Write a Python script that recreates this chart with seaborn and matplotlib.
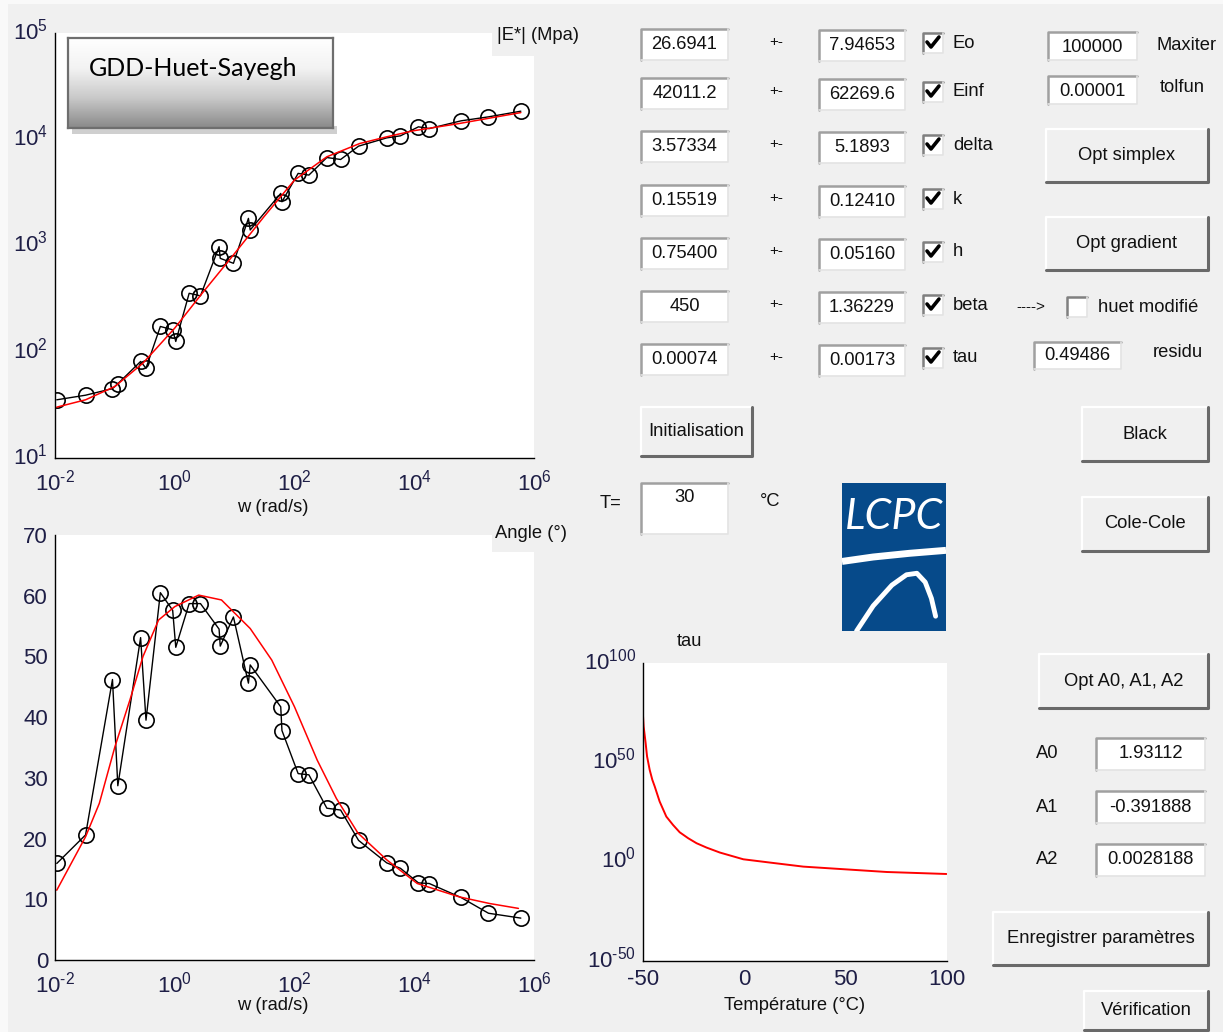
import numpy as np
import pandas as pd
import matplotlib
matplotlib.use('Agg')
import matplotlib.pyplot as plt
import seaborn as sns
from matplotlib import font_manager
from matplotlib.patches import Rectangle
from matplotlib.lines import Line2D
from matplotlib.colors import LinearSegmentedColormap
from matplotlib.transforms import ScaledTranslation
from matplotlib.ticker import FuncFormatter, FixedLocator, NullLocator, LogLocator

w_meas = [0.0107, 0.0324, 0.0912, 0.112, 0.269, 0.331, 0.575, 0.923, 1.04, 1.74,
          2.69, 5.50, 5.75, 9.55, 17.0, 18.2, 58.9, 61.7, 115, 174,
          347, 589, 1175, 3467, 5888, 11750, 17780, 60260, 173800, 602600]
e_meas = [35.3, 39, 45, 50, 81, 70, 173, 161, 125, 355,
          336, 975, 757, 680, 1800, 1400, 3090, 2580, 4770, 4600,
          6730, 6450, 8610, 10300, 10770, 13090, 12600, 14900, 16250, 18370]
angle_meas = [15.9, 20.6, 46.2, 28.7, 53.1, 39.5, 60.5, 57.6, 51.5, 58.7,
              58.7, 54.5, 51.7, 56.5, 45.6, 48.6, 41.7, 37.8, 30.7, 30.5,
              25.0, 24.7, 19.7, 16.0, 15.1, 12.7, 12.6, 10.3, 7.7, 6.9]

# ---- fitted model curves ----
w_fit_e = [0.0107, 0.0324, 0.1, 0.295, 1.0, 2.88, 9.55, 30.9, 100, 347,
           1230, 3467, 9550, 56230, 602600]
e_fit = [30.1, 35.3, 47.1, 78.2, 167, 356, 815, 1866, 4130, 6840,
         9120, 10540, 12000, 14060, 17820]
w_fit_a = [0.0107, 0.0324, 0.055, 0.1, 0.178, 0.295, 0.537, 1.0, 2.51, 6.03,
           18.2, 41.7, 100, 240, 501, 1148, 3467, 11220, 56230, 182000, 549500]
angle_fit = [11.5, 20.3, 25.8, 35.1, 42.8, 50.0, 56.0, 58.2, 60.1, 59.3,
             54.6, 49.4, 41.7, 32.9, 26.6, 20.9, 16.5, 12.6, 10.4, 9.3, 8.5]
temp_fit = [-50, -49.7, -48.7, -48.0, -46.7, -45.4, -44.2, -41.8, -38.5, -35.2,
            -31.9, -27.7, -23.6, -18.7, -12.1, -0.5, 12.6, 29.1, 48.9, 70.3, 99.7]
tau_fit = [3.2e73, 1.3e68, 5.0e59, 1e53, 1.6e46, 1.6e41, 6.3e37, 2.0e30, 5.0e22, 3.2e18,
           6.3e14, 6.3e11, 2.0e9, 1.3e7, 4.0e4, 15.8, 0.355, 3.2e-3, 1.6e-4, 6.3e-6, 6.3e-7]

# ---- GUI contents ----
param_names = ['Eo', 'Einf', 'delta', 'k', 'h', 'beta', 'tau']
param_values = ['26.6941', '42011.2', '3.57334', '0.15519', '0.75400', '450', '0.00074']
param_errors = ['7.94653', '62269.6', '5.1893', '0.12410', '0.05160', '1.36229', '0.00173']
a_names = ['A0', 'A1', 'A2']
a_values = ['1.93112', '-0.391888', '0.0028188']

df_meas = pd.DataFrame({'w': w_meas, 'E': e_meas, 'angle': angle_meas})

sns.set_style('white')
names = {f.name for f in font_manager.fontManager.ttflist}
gui_font = 'Liberation Sans Narrow' if 'Liberation Sans Narrow' in names else 'Liberation Sans'
plt.rcParams['font.family'] = [gui_font, 'DejaVu Sans']
plt.rcParams['axes.edgecolor'] = 'black'
plt.rcParams['axes.linewidth'] = 1.0
plt.rcParams['axes.unicode_minus'] = False

GUI_SIZE = 13.2

W, H = 1223, 1032
fig = plt.figure(figsize=(W / 100, H / 100), dpi=100)
fig.patch.set_facecolor('#f9f9f9')


def fx(x):
    return x / W


def fy(y):
    return 1 - y / H


def box(x0, y0, x1, y1):
    return [fx(x0), fy(y1), (x1 - x0) / W, (y1 - y0) / H]


def rect(x0, y0, x1, y1, **kw):
    fig.add_artist(Rectangle((fx(x0), fy(y1)), (x1 - x0) / W, (y1 - y0) / H,
                             transform=fig.transFigure, **kw))


def line(xs, ys, **kw):
    fig.add_artist(Line2D([fx(v) for v in xs], [fy(v) for v in ys],
                          transform=fig.transFigure, **kw))


def label(x, y, s, size=GUI_SIZE, ha='left', va='center', **kw):
    fig.text(fx(x), fy(y), s, size=size, ha=ha, va=va, color='#111111', **kw)


def edit_box(x0, y0, x1, y1, s, ty=None):
    rect(x0, y0, x1, y1, facecolor='white', edgecolor='none', zorder=2)
    line([x0, x0, x1], [y1, y0, y0], color='#a0a0a0', lw=1.8, zorder=3)
    line([x0, x1, x1], [y1, y1, y0], color='#e3e3e3', lw=1.2, zorder=3)
    label((x0 + x1) / 2, (y0 + y1) / 2 if ty is None else ty, s, ha='center', zorder=4)


def button(x0, y0, x1, y1, s):
    rect(x0, y0, x1, y1, facecolor='#f0f0f0', edgecolor='none', zorder=2)
    line([x0, x0, x1], [y1, y0, y0], color='white', lw=1.6, zorder=3)
    line([x0, x1, x1], [y1, y1, y0], color='#696969', lw=2.2, zorder=3)
    label((x0 + x1) / 2, (y0 + y1) / 2, s, ha='center', zorder=4)


def checkbox(x0, yc, checked=True):
    y0, y1, x1 = yc - 10, yc + 10, x0 + 20
    rect(x0, y0, x1, y1, facecolor='white', edgecolor='none', zorder=2)
    line([x0, x0, x1], [y1, y0, y0], color='#808080', lw=1.8, zorder=3)
    line([x0, x1, x1], [y1, y1, y0], color='#e3e3e3', lw=1.2, zorder=3)
    if checked:
        line([x0 + 4, x0 + 8, x0 + 16], [yc - 1, yc + 4, yc - 6], color='black', lw=2.6, zorder=4)


def pow10_label(v, pos):
    e = int(round(np.log10(v)))
    s = str(e).replace('-', '\u2010')
    return '$\\mathdefault{10^{%s}}$' % s


# background panel
rect(8, 4, W, H, facecolor='#f0f0f0', edgecolor='none', zorder=-5)

tick_color = '#1e1e46'


def style_axis(ax, xpad=8):
    sns.despine(ax=ax)
    ax.set_facecolor('white')
    ax.tick_params(direction='in', length=5, width=1, color='black', labelcolor=tick_color,
                   labelsize=16)
    ax.tick_params(axis='x', pad=xpad)
    ax.tick_params(axis='y', pad=5)
    ax.tick_params(which='minor', direction='in', length=3, width=0.8, color='black')
    ax.set_xlabel('')
    ax.set_ylabel('')


def raise_ylabels(ax, dy):
    off = ScaledTranslation(0, dy / 72, fig.dpi_scale_trans)
    for t in ax.yaxis.get_major_ticks():
        t.label1.set_transform(t.label1.get_transform() + off)


# ---- |E*| plot ----
ax1 = fig.add_axes(box(55, 33, 534, 458))
ax1.set_xscale('log')
ax1.set_yscale('log')
sns.lineplot(data=df_meas, x='w', y='E', ax=ax1, color='black', lw=1, marker='o',
             markersize=11, markerfacecolor='none', markeredgecolor='black',
             markeredgewidth=1.2, estimator=None, sort=False)
sns.lineplot(x=w_fit_e, y=e_fit, ax=ax1, color='red', lw=1.1, estimator=None, sort=False)
ax1.set_xlim(1e-2, 1e6)
ax1.set_ylim(1e1, 1e5)
ax1.xaxis.set_major_locator(FixedLocator([1e-2, 1e0, 1e2, 1e4, 1e6]))
ax1.xaxis.set_minor_locator(NullLocator())
ax1.xaxis.set_major_formatter(FuncFormatter(pow10_label))
ax1.yaxis.set_major_locator(FixedLocator([1e1, 1e2, 1e3, 1e4, 1e5]))
ax1.yaxis.set_minor_locator(LogLocator(base=10, subs=np.arange(2, 10)))
ax1.yaxis.set_major_formatter(FuncFormatter(pow10_label))
style_axis(ax1)
raise_ylabels(ax1, 3)

# ---- phase angle plot ----
ax2 = fig.add_axes(box(55, 535, 534, 960))
ax2.set_xscale('log')
sns.lineplot(data=df_meas, x='w', y='angle', ax=ax2, color='black', lw=1, marker='o',
             markersize=11, markerfacecolor='none', markeredgecolor='black',
             markeredgewidth=1.2, estimator=None, sort=False)
sns.lineplot(x=w_fit_a, y=angle_fit, ax=ax2, color='red', lw=1.1, estimator=None, sort=False)
ax2.set_xlim(1e-2, 1e6)
ax2.set_ylim(0, 70)
ax2.xaxis.set_major_locator(FixedLocator([1e-2, 1e0, 1e2, 1e4, 1e6]))
ax2.xaxis.set_minor_locator(NullLocator())
ax2.xaxis.set_major_formatter(FuncFormatter(pow10_label))
ax2.set_yticks(np.arange(0, 71, 10))
style_axis(ax2)

# ---- tau(T) plot ----
ax3 = fig.add_axes(box(643, 663, 947, 961))
ax3.set_yscale('log')
sns.lineplot(x=temp_fit, y=tau_fit, ax=ax3, color='red', lw=1.4, estimator=None, sort=False)
ax3.set_xlim(-50, 100)
ax3.set_ylim(1e-50, 1e100)
ax3.set_xticks([-50, 0, 50, 100])
ax3.yaxis.set_major_locator(FixedLocator([1e-50, 1e0, 1e50, 1e100]))
ax3.yaxis.set_minor_locator(NullLocator())
ax3.yaxis.set_major_formatter(FuncFormatter(pow10_label))
style_axis(ax3, xpad=6)
raise_ylabels(ax3, 3)

# axis captions
rect(492, 24, 537, 56, facecolor='#f0f0f0', edgecolor='none', zorder=2)
label(497, 36, '|E*| (Mpa)', zorder=4)
label(273, 507, 'w (rad/s)', ha='center')
rect(492, 518, 537, 552, facecolor='#f0f0f0', edgecolor='none', zorder=2)
label(495, 533, 'Angle (°)', zorder=4)
label(273, 1005, 'w (rad/s)', ha='center')
label(677, 642, 'tau')
label(795, 1006, 'Température (°C)', ha='center')

# title box with gradient
rect(72, 126, 337, 134, facecolor='#cfcfcf', edgecolor='none', zorder=2)
ax_t = fig.add_axes(box(68, 38, 333, 128), zorder=3)
grad_cmap = LinearSegmentedColormap.from_list('g', ['#ffffff', '#f3f3f3', '#c9c9c9', '#8a8a8a'])
ax_t.imshow(np.linspace(0, 1, 100).reshape(-1, 1), aspect='auto', cmap=grad_cmap,
            extent=[0, 1, 0, 1])
ax_t.set_xticks([])
ax_t.set_yticks([])
for sp in ax_t.spines.values():
    sp.set_color('#6e6e6e')
    sp.set_linewidth(1.6)
ax_t.text(0.08, 0.66, 'GDD-Huet-Sayegh', transform=ax_t.transAxes, family='Lato',
          size=18, va='center', ha='left', color='black')

# parameter rows
rows_y = [45, 94, 147, 201, 254, 307, 360]
for name, val, err, yc in zip(param_names, param_values, param_errors, rows_y):
    edit_box(641, yc - 16, 728, yc + 15, val)
    label(776, yc - 3, '+-', ha='center', size=11)
    edit_box(819, yc - 15, 905, yc + 16, err)
    checkbox(923, yc - 2)
    label(953, yc - 2, name)

edit_box(1048, 32, 1137, 60, '100000', ty=47)
label(1156, 45, 'Maxiter')
edit_box(1048, 76, 1137, 104, '0.00001', ty=91)
label(1160, 87, 'tolfun')
button(1046, 129, 1208, 182, 'Opt simplex')
button(1046, 217, 1208, 270, 'Opt gradient')
label(1016, 307, '---->', size=11)
checkbox(1067, 307, checked=False)
label(1098, 307, 'huet modifié')
edit_box(1034, 342, 1121, 369, '0.49486', ty=355)
label(1153, 353, 'residu')

button(641, 407, 752, 456, 'Initialisation')
button(1082, 407, 1208, 461, 'Black')
label(600, 504, 'T=')
edit_box(641, 483, 728, 534, '30', ty=498)
label(760, 501, '°C')
button(1082, 497, 1208, 551, 'Cole-Cole')
button(1039, 654, 1208, 708, 'Opt A0, A1, A2')
for nm, val, yc in zip(a_names, a_values, [754, 807, 860]):
    label(1036, yc, nm)
    edit_box(1096, yc - 16, 1205, yc + 16, val)
button(993, 912, 1208, 965, 'Enregistrer paramètres')
button(1084, 991, 1208, 1030, 'Vérification')

# LCPC logo
ax_l = fig.add_axes(box(842, 483, 946, 631), zorder=3)
ax_l.set_xlim(0, 1)
ax_l.set_ylim(0, 1)
ax_l.axis('off')
ax_l.add_patch(Rectangle((0, 0), 1, 1, facecolor='#064a8a', edgecolor='none'))
ax_l.text(0.5, 0.77, 'LCPC', color='white', style='italic', family='Lato', size=31,
          ha='center', va='center')
ax_l.plot([0, 0.3, 0.65, 1.0], [0.47, 0.5, 0.525, 0.545], color='white', lw=5,
          solid_capstyle='butt')
ax_l.plot([0.14, 0.3, 0.48, 0.62, 0.72, 0.8, 0.86, 0.9],
          [0.0, 0.17, 0.31, 0.38, 0.39, 0.33, 0.22, 0.1], color='white', lw=3.5)

fig.savefig('out.png', dpi=100, facecolor=fig.get_facecolor())
